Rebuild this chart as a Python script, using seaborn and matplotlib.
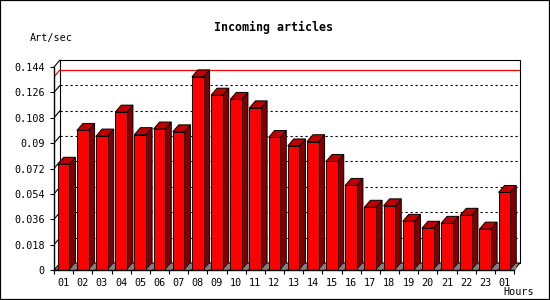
import matplotlib
matplotlib.use("Agg")
import matplotlib.pyplot as plt
from matplotlib.patches import Polygon, Rectangle
import seaborn as sns
import numpy as np

# ---- data ----
hours = ["01", "02", "03", "04", "05", "06", "07", "08", "09", "10", "11", "12",
         "13", "14", "15", "16", "17", "18", "19", "20", "21", "22", "23", "01"]
art_per_sec = [0.075, 0.099, 0.095, 0.112, 0.096, 0.100, 0.098, 0.137, 0.124, 0.121,
               0.115, 0.094, 0.088, 0.091, 0.077, 0.060, 0.0445, 0.0455, 0.0345,
               0.0296, 0.0331, 0.0388, 0.029, 0.055]
ytick_values = [0, 0.018, 0.036, 0.054, 0.072, 0.09, 0.108, 0.126, 0.144]
ytick_labels = ["0", "0.018", "0.036", "0.054", "0.072", "0.09", "0.108", "0.126", "0.144"]

sns.set_style("white")
plt.rcParams["font.family"] = ["DejaVu Sans Mono"]

fig = plt.figure(figsize=(5.5, 3), dpi=100, facecolor="white")
fig.patches.append(Rectangle((0, 0), 1, 1, transform=fig.transFigure, fill=False,
                             edgecolor="black", linewidth=1.6, zorder=100))
ax = fig.add_axes([54 / 550, 0.1, 466 / 550, 0.7])

positions = list(range(len(hours)))
sns.barplot(x=positions, y=art_per_sec, color="#ff0000", saturation=1,
            width=0.61, edgecolor="black", linewidth=0.7, ax=ax, zorder=5)

ymax = ytick_values[-1]
nx = len(hours)
# depth offsets (in data units)
DX = 0.313
DY = 0.00497
ax.set_xlim(-0.5, nx - 0.5 + DX)
ax.set_ylim(0, ymax + DY)

# back wall
ax.add_patch(Rectangle((-0.5 + DX, DY), nx, ymax, facecolor="white",
                       edgecolor="black", linewidth=0.8, zorder=0, clip_on=False))
# floor
ax.add_patch(Polygon([(-0.5, 0), (nx - 0.5, 0), (nx - 0.5 + DX, DY), (-0.5 + DX, DY)],
                     closed=True, facecolor="#808080", edgecolor="black",
                     linewidth=0.7, zorder=1, clip_on=False))
# left diagonals
ax.plot([-0.5, -0.5 + DX], [ymax, ymax + DY], color="black", lw=0.8, zorder=2, clip_on=False)
# gridlines on back wall
for yv in ytick_values[1:-1]:
    ax.plot([-0.5 + DX, nx - 0.5 + DX], [yv + DY, yv + DY], color="black",
            lw=0.8, linestyle=(0, (2, 2.5)), zorder=2)
    ax.plot([-0.5, -0.5 + DX], [yv, yv + DY], color="black", lw=0.8, zorder=2)

# max line
vmax = max(art_per_sec)
ax.plot([-0.5 + DX, nx - 0.5 + DX], [vmax + DY, vmax + DY], color="#ff0000", lw=0.9, zorder=3)
ax.plot([-0.5, -0.5 + DX], [vmax, vmax + DY], color="#ff0000", lw=0.9, zorder=3)

# 3D faces of bars
for p in list(ax.patches):
    if not isinstance(p, Rectangle) or p.get_zorder() != 5:
        continue
    x0 = p.get_x()
    w = p.get_width()
    h = p.get_height()
    top = Polygon([(x0, h), (x0 + w, h), (x0 + w + DX, h + DY), (x0 + DX, h + DY)],
                  closed=True, facecolor="#c00000", edgecolor="black", linewidth=0.7, zorder=5)
    side = Polygon([(x0 + w, 0), (x0 + w + DX, DY), (x0 + w + DX, h + DY), (x0 + w, h)],
                   closed=True, facecolor="#800000", edgecolor="black", linewidth=0.7, zorder=4.9)
    shadow = Polygon([(x0 + w, 0), (x0 + w + DX, DY), (x0 + w + DX, 0)],
                     closed=True, facecolor="#808080", edgecolor="none", zorder=4.95)
    ax.add_patch(side)
    ax.add_patch(top)
    ax.add_patch(shadow)

# spines
for s in ["top", "right"]:
    ax.spines[s].set_visible(False)
ax.spines["left"].set_bounds(0, ymax)
ax.spines["bottom"].set_bounds(-0.5, nx - 0.5)
for s in ["left", "bottom"]:
    ax.spines[s].set_color("black")
    ax.spines[s].set_linewidth(1.0)
    ax.spines[s].set_zorder(10)

ax.set_yticks(ytick_values)
ax.set_yticklabels(ytick_labels)
ax.set_xticks(positions)
ax.set_xticklabels(hours)
ax.set_xticks(np.arange(-0.5, nx, 1.0), minor=True)
ax.tick_params(axis="y", which="both", direction="out", length=3, width=0.8,
               pad=3.5, labelsize=7.3, colors="black", left=True)
ax.tick_params(axis="x", which="major", length=0, pad=6, labelsize=7.3, colors="black")
ax.tick_params(axis="x", which="minor", direction="out", length=3, width=0.8,
               colors="black", bottom=True)
ax.set_xlabel("")
ax.set_ylabel("")
ax.patch.set_alpha(0)

fig.text(274 / 550, 1 - 27 / 300, "Incoming articles", ha="center", va="center",
         fontsize=8.4, fontweight="bold", color="black")
fig.text(30 / 550, 1 - 38 / 300, "Art/sec", ha="left", va="center",
         fontsize=7.3, color="black")
fig.text(519 / 550, 1 - 292 / 300, "Hours", ha="center", va="center",
         fontsize=7.3, color="black")

fig.savefig("out.png", dpi=100)
